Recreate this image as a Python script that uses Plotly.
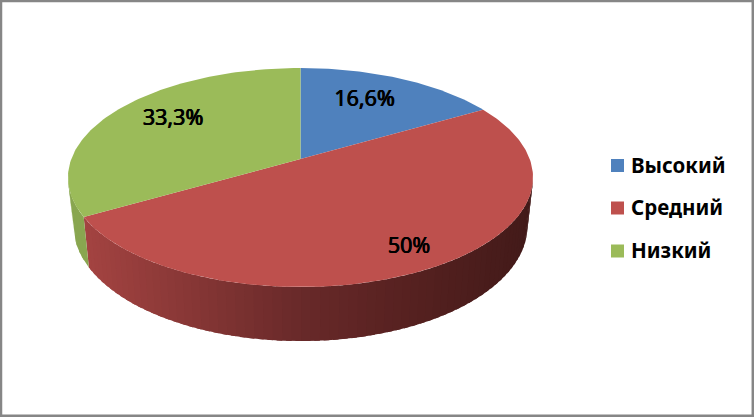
import math
import plotly.graph_objects as go

categories = ["Высокий", "Средний", "Низкий"]
values = [16.6, 50, 33.3]
value_labels = ["16,6%", "50%", "33,3%"]
top_colors = ["#4F81BD", "#BE504D", "#9BBB59"]
label_pos_x = [364.5, 409, 173]
label_pos_y = [101, 248, 120]
legend_y = [165.5, 208, 251]

W, H = 754, 417
FONT = "Noto Sans"

# Perspective disc geometry (pixels)
CX = 300.5
K = 0.169
TOP = dict(a=229.2, b=106.4, c=159.0)
BOT = dict(a=223.7, b=112.0, c=206.3)
WALL_LEFT_T = 260.3
WALL_RIGHT_T = 99.7


def project(t_deg, plane):
    t = math.radians(t_deg)
    d = 1 + K * math.cos(t)
    return CX + plane["a"] * math.sin(t) / d, plane["c"] - plane["b"] * math.cos(t) / d


def mix(c1, c2, f):
    return "rgb(%d,%d,%d)" % tuple(round(a + (b - a) * f) for a, b in zip(c1, c2))


total = sum(values)
starts, ang = [], 0.0
for v in values:
    starts.append(ang)
    ang += v / total * 360
ends = starts[1:] + [360.0]

fig = go.Figure()


def add_poly(xs, ys, color, name=""):
    fig.add_trace(go.Scatter(x=xs, y=ys, mode="lines", fill="toself", fillcolor=color,
                             line=dict(width=0, color=color), hoverinfo="skip",
                             showlegend=False, name=name))


# Side wall: green part, then red part in gradient bands
def wall(t0, t1, color_fn, n):
    for i in range(n):
        a = t0 + (t1 - t0) * i / n
        b = t0 + (t1 - t0) * (i + 1.6) / n
        b = min(b, t1) if t1 > t0 else max(b, t1)
        ts = [a + (b - a) * j / 6 for j in range(7)]
        xs = [project(t, TOP)[0] for t in ts] + [project(t, BOT)[0] for t in reversed(ts)]
        ys = [project(t, TOP)[1] for t in ts] + [project(t, BOT)[1] for t in reversed(ts)]
        add_poly(xs, ys, color_fn(project((a + b) / 2, TOP)[0]))


def red_shade(x):
    pts = [(85, (163, 67, 65)), (300, (104, 41, 41)), (420, (84, 32, 31)), (535, (66, 26, 25))]
    for (x0, c0), (x1, c1) in zip(pts, pts[1:]):
        if x <= x1:
            return mix(c0, c1, max(0, (x - x0) / (x1 - x0)))
    return mix(pts[-1][1], pts[-1][1], 0)


wall(WALL_RIGHT_T, ends[1], red_shade, 70)
wall(ends[1], WALL_LEFT_T, lambda x: "#89A650", 6)

# Top face
for s, e, col, name in zip(starts, ends, top_colors, categories):
    n = max(2, int(e - s))
    ts = [s + (e - s) * j / n for j in range(n + 1)]
    xs = [project(t, TOP)[0] for t in ts] + [CX]
    ys = [project(t, TOP)[1] for t in ts] + [TOP["c"]]
    add_poly(xs + xs[:1], ys + ys[:1], col, name)

# Value labels
fig.add_trace(go.Scatter(x=label_pos_x, y=label_pos_y, mode="text",
                         text=value_labels,
                         textfont=dict(family=FONT, size=21.5, color="#000000",
                                       shadow="0.5px 0 0 #000, -0.3px 0 0 #000"),
                         textposition="middle center", hoverinfo="skip", showlegend=False))

# Legend
fig.add_trace(go.Scatter(x=[617.5] * 3, y=legend_y, mode="markers",
                         marker=dict(symbol="square", size=13, color=top_colors),
                         hoverinfo="skip", showlegend=False))
annotations = [dict(x=628.5, y=y - 1, xref="x", yref="y", text="<b>%s</b>" % c, showarrow=False,
                    xanchor="left", yanchor="middle", font=dict(family=FONT, size=20.5, color="#000"))
               for c, y in zip(categories, legend_y)]

fig.update_layout(
    width=W, height=H, margin=dict(l=0, r=0, t=0, b=0),
    paper_bgcolor="#FFFFFF", plot_bgcolor="#FFFFFF", showlegend=False,
    xaxis=dict(range=[0, W], visible=False, fixedrange=True),
    yaxis=dict(range=[H, 0], visible=False, fixedrange=True),
    annotations=annotations,
    shapes=[dict(type="rect", xref="x", yref="y", x0=1, y0=1, x1=W - 1.2, y1=H - 1.2,
                 line=dict(color="#868686", width=2.5), fillcolor="rgba(0,0,0,0)", layer="above")],
)
fig.write_html("out.html", config={"displayModeBar": False},
               post_script="document.body.style.margin='0';document.documentElement.style.overflow='hidden';")
